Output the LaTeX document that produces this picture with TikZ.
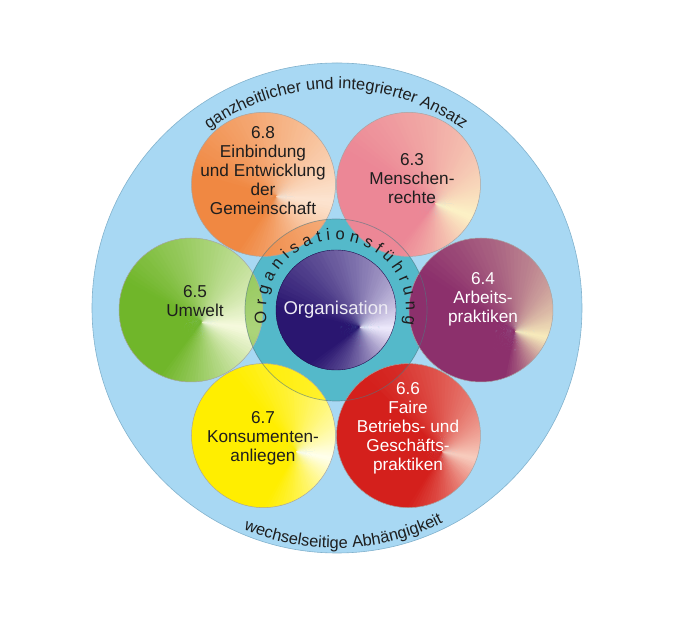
\documentclass[tikz,border=0pt]{standalone}
\usepackage{fontspec}
\setmainfont{Liberation Sans}
\usetikzlibrary{decorations.text}
\definecolor{bgblue}{RGB}{168,216,243}
\definecolor{bgedge}{RGB}{130,178,205}
\definecolor{tealc}{RGB}{84,185,202}
\definecolor{tealedge}{RGB}{80,120,130}
\definecolor{c68}{RGB}{240,136,66}  \definecolor{h68}{RGB}{252,228,208}
\definecolor{c63}{RGB}{236,135,150} \definecolor{h63}{RGB}{252,242,198}
\definecolor{c65}{RGB}{112,182,42}  \definecolor{h65}{RGB}{246,250,222}
\definecolor{c64}{RGB}{140,48,108}  \definecolor{h64}{RGB}{248,236,188}
\definecolor{c67}{RGB}{255,238,0}   \definecolor{h67}{RGB}{255,255,238}
\definecolor{c66}{RGB}{212,32,28}   \definecolor{h66}{RGB}{248,205,190}
\definecolor{corg}{RGB}{42,22,112}  \definecolor{horg}{RGB}{238,234,252}
\definecolor{txt}{RGB}{30,30,30}
\newcommand\petalfont{\fontsize{17.2pt}{19pt}\selectfont}
\newcommand\arcfont{\fontsize{16.4pt}{16pt}\selectfont}
\newcommand\ringfont{\fontsize{16.5pt}{16pt}\selectfont}
% #1 center, #2 radius, #3 focal, #4 dir, #5 base, #6 hi, #7 half width above, #8 half width below
\newcommand\conicdisk[8]{%
  \begin{scope}[shift={#1}]
    \clip (0,0) circle (#2);
    \foreach \a in {0,3,...,357}{
      \ifnum\a<180
        \pgfmathsetmacro\q{\a/#7*100}%
      \else
        \pgfmathsetmacro\q{(360-\a)/#8*100}%
      \fi
      \pgfmathtruncatemacro\p{min(100,\q)}%
      \fill[#5!\p!#6] #3 -- +(#4+\a-2.2:300pt) -- +(#4+\a+2.2:300pt) -- cycle;
    }
  \end{scope}}
\tikzset{
  petal/.style={circle, minimum size=144pt, inner sep=0pt, draw=black!35, line width=0.5pt},
  ptext/.style={align=center, font=\petalfont, text=txt, inner sep=0pt},
  wtext/.style={ptext, text=white}
}
\begin{document}
\begin{tikzpicture}
\useasboundingbox (-336pt,-313pt) rectangle (345pt,310pt);
% outer circle
\node[circle, minimum size=490pt, inner sep=0pt, fill=bgblue, draw=bgedge, line width=0.6pt] (outer) at (1pt,2pt) {};
% teal ring
\node[circle, minimum size=182pt, inner sep=0pt, fill=tealc] (ring) at (0pt,0pt) {};
% petals
\conicdisk{(-72.5pt,125.6pt)}{72pt}{(13pt,-12pt)}{-5}{c68}{h68}{170}{120}
\conicdisk{(72.5pt,125.6pt)}{72pt}{(27pt,-19pt)}{-20}{c63}{h63}{170}{110}
\conicdisk{(-145pt,0pt)}{72pt}{(11pt,-12pt)}{-8}{c65}{h65}{160}{120}
\conicdisk{(145pt,0pt)}{72pt}{(34pt,-21pt)}{-12}{c64}{h64}{160}{90}
\conicdisk{(-72.5pt,-125.6pt)}{72pt}{(33pt,-16pt)}{-10}{c67}{h67}{140}{110}
\conicdisk{(72.5pt,-125.6pt)}{72pt}{(34pt,-16pt)}{-12}{c66}{h66}{150}{110}
% overlaps with the ring
\begin{scope}
  \clip (0pt,0pt) circle (91pt);
  \fill[c68, opacity=0.55] (-72.5pt,125.6pt) circle (72pt);
  \fill[c63, opacity=0.45] (72.5pt,125.6pt) circle (72pt);
  \fill[c65, opacity=0.55] (-145pt,0pt) circle (72pt);
  \fill[c64, opacity=0.45] (145pt,0pt) circle (72pt);
  \fill[c67, opacity=0.6] (-72.5pt,-125.6pt) circle (72pt);
  \fill[c66, opacity=0.55] (72.5pt,-125.6pt) circle (72pt);
\end{scope}
\node[petal] (p68) at (-72.5pt,125.6pt) {};
\node[petal] (p63) at (72.5pt,125.6pt) {};
\node[petal] (p65) at (-145pt,0pt) {};
\node[petal] (p64) at (145pt,0pt) {};
\node[petal] (p67) at (-72.5pt,-125.6pt) {};
\node[petal] (p66) at (72.5pt,-125.6pt) {};
\draw[tealedge, opacity=0.6, line width=0.7pt] (ring.center) circle (91pt);
% organisation
\conicdisk{(0pt,0pt)}{60pt}{(24pt,-17pt)}{-3}{corg}{horg}{170}{140}
\node[circle, minimum size=120pt, inner sep=0pt, draw=corg!70!black, line width=0.4pt] (org) at (0pt,0pt) {};
\node[font=\fontsize{18.5pt}{20pt}\selectfont, text=white!92!corg] (orgt) at (0pt,0pt) {Organisation};
% petal texts
\node[ptext] (t68) at (-73pt,139pt) {6.8\\Einbindung\\und Entwicklung\\der\\Gemeinschaft};
\node[ptext] (t63) at (76pt,131pt) {6.3\\Menschen-\\rechte};
\node[ptext] (t65) at (-141pt,9pt) {6.5\\Umwelt};
\node[wtext] (t64) at (147pt,11pt) {6.4\\Arbeits-\\praktiken};
\node[ptext] (t67) at (-73pt,-128pt) {6.7\\Konsumenten-\\anliegen};
\node[wtext] (t66) at (72pt,-118pt) {6.6\\Faire\\Betriebs- und\\Geschäfts-\\praktiken};
% curved texts
\path[decorate, decoration={text along path, text align=center, text color=txt,
  text={|\arcfont|ganzheitlicher und integrierter Ansatz}}]
  (160:221pt) arc[start angle=160, end angle=20, radius=221pt];
\path[decorate, decoration={text along path, text align=center, text color=txt,
  text={|\arcfont|wechselseitige Abhängigkeit}}]
  (202:238pt) arc[start angle=202, end angle=342, radius=238pt];
\path[decorate, decoration={text along path, text align=fit to path, text color=txt,
  text={|\ringfont|Organisationsführung}}]
  (191:70pt) arc[start angle=191, end angle=-12, radius=70pt];
\end{tikzpicture}
\end{document}
